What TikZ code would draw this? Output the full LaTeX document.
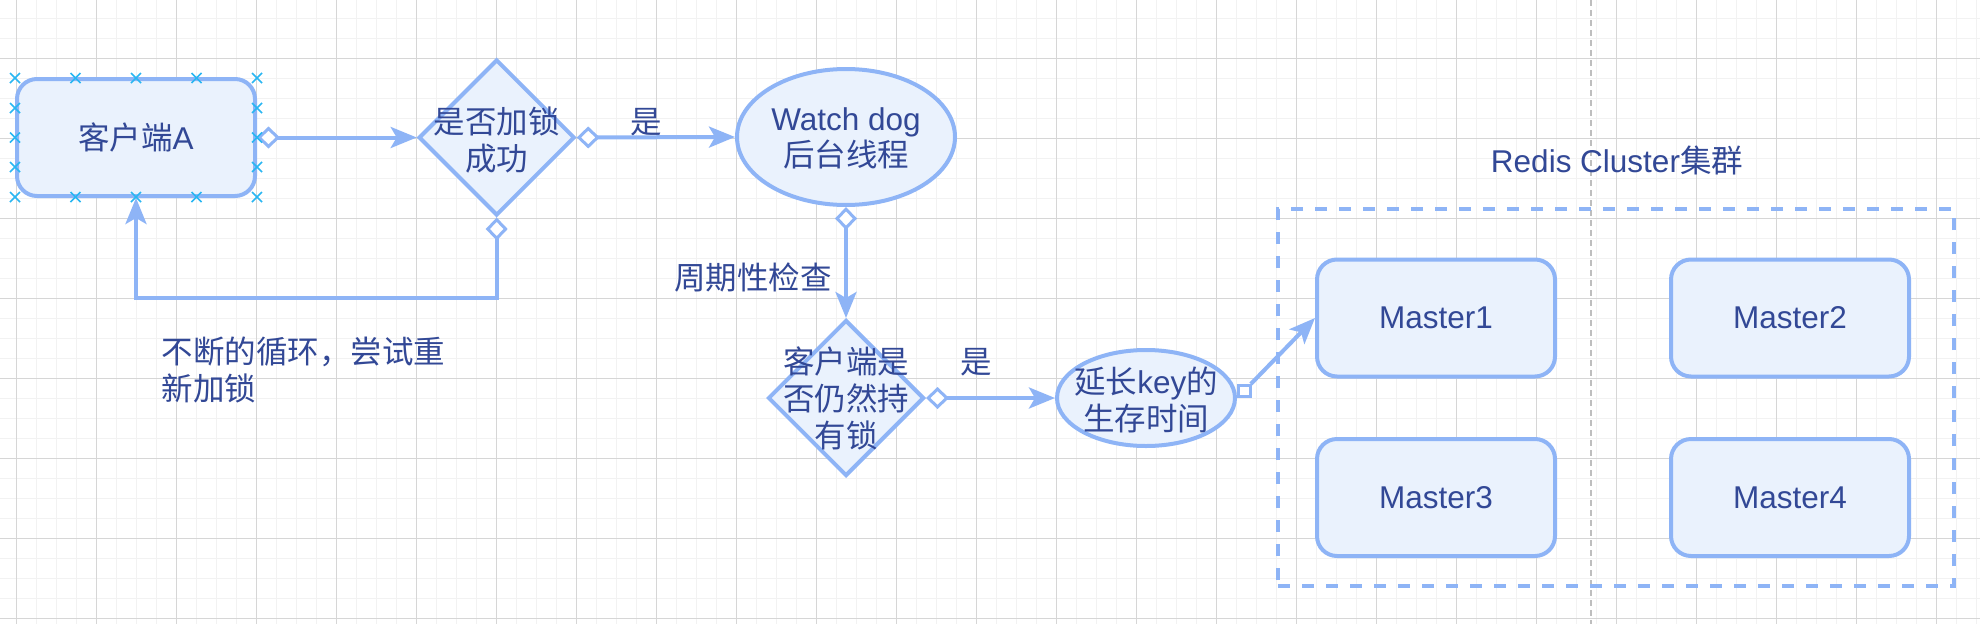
\documentclass[tikz,border=0pt]{standalone}
\usepackage{fontspec}
\setmainfont{Liberation Sans}
\newfontfamily\cjk{Noto Sans CJK SC}
\usetikzlibrary{arrows.meta,shapes.geometric}
\definecolor{strk}{RGB}{142,180,246}
\definecolor{fillc}{RGB}{234,242,253}
\definecolor{txt}{RGB}{50,72,150}
\definecolor{gmin}{RGB}{242,242,242}
\definecolor{gmaj}{RGB}{214,214,214}
\definecolor{hdlc}{RGB}{41,182,242}
\definecolor{pgline}{RGB}{190,190,190}
\tikzset{
  arrowhd/.tip={Stealth[length=26pt,width=21pt,inset=6pt]},
  dstart/.tip={Diamond[length=23pt,width=22pt,fill=white,line width=3pt]},
}
\begin{document}
\begin{tikzpicture}[x=1pt,y=-1pt,
  every node/.style={font=\fontsize{31.5}{36.7}\selectfont, text=txt},
  cj/.style={font=\fontsize{31.5}{36.7}\selectfont\cjk},
  rbox/.style={draw=strk, fill=fillc, line width=4pt, rounded corners=20pt,
    minimum width=238pt, minimum height=117pt, inner sep=0pt},
  dia/.style={diamond, aspect=1, draw=strk, fill=fillc, line width=4pt,
    minimum width=156pt, minimum height=156pt, inner sep=0pt},
  ell/.style={ellipse, draw=strk, fill=fillc, line width=4pt, inner sep=0pt},
  txtnode/.style={inner sep=0pt, align=center},
  conn/.style={draw=strk, line width=4pt},
  hdl/.style={draw=hdlc, line width=1.6pt},
  gminor/.style={draw=gmin, line width=1pt},
  gmajor/.style={draw=gmaj, line width=1pt},
  container/.style={draw=strk, line width=4pt, dash pattern=on 12pt off 12pt,
    minimum width=676pt, minimum height=377pt, inner sep=0pt},
  sqmark/.style={draw=strk, fill=white, line width=3pt, minimum width=12pt, minimum height=11pt, inner sep=0pt},
]
\useasboundingbox (0,0) rectangle (1980,624);
\fill[white] (0,0) rectangle (1980,624);
% grid
\foreach \i in {0,...,98} {\draw[gminor] ({16.7+20*\i},0) -- ({16.7+20*\i},624);}
\foreach \j in {0,...,30} {\draw[gminor] (0,{18.3+20*\j}) -- (1980,{18.3+20*\j});}
\foreach \i in {0,...,24} {\draw[gmajor] ({16.7+80*\i},0) -- ({16.7+80*\i},624);}
\foreach \j in {0,...,7} {\draw[gmajor] (0,{58.3+80*\j}) -- (1980,{58.3+80*\j});}
\draw[pgline, line width=1.5pt, dash pattern=on 6pt off 4pt] (1591,0) -- (1591,624);

% shapes
\node[rbox] (A) at (136,137.5) {{\cjk 客户端}A};
\node[dia] (d1) at (496.7,137.5) {};
\node[txtnode, cj] (d1t) at (496.7,140) {是否加锁\\成功};
\node[ell, minimum width=218pt, minimum height=136pt] (wd) at (846,137) {};
\node[txtnode] (wdt) at (846,138.5) {Watch dog\\{\cjk 后台线程}};
\node[dia] (d2) at (846,398) {};
\node[txtnode, cj] (d2t) at (846,398.5) {客户端是\\否仍然持\\有锁};
\node[ell, minimum width=178pt, minimum height=96pt] (e2) at (1146,398) {};
\node[txtnode] (e2t) at (1146,400) {{\cjk 延长}key{\cjk 的}\\{\cjk 生存时间}};

\node[container] (cl) at (1616,397.5) {};
\node[txtnode] (ltitle) at (1617,160) {Redis Cluster{\cjk 集群}};
\node[rbox] (m1) at (1436,318) {Master1};
\node[rbox] (m2) at (1790,318) {Master2};
\node[rbox] (m3) at (1436,497.5) {Master3};
\node[rbox] (m4) at (1790,497.5) {Master4};

% labels
\node[txtnode, cj] (lyes1) at (646.7,121.7) {是};
\node[txtnode, cj] (lyes2) at (976.7,361.7) {是};
\node[txtnode, cj] (lcheck) at (753,278) {周期性检查};
\node[inner sep=0pt, align=left, anchor=west, cj] (lloop) at (161.7,370) {不断的循环，尝试重\\新加锁};

% connectors
\coordinate (lp) at (496.7,298.3);
\draw[conn, dstart-arrowhd] (A.east) -- (d1.west);
\draw[conn, dstart-arrowhd] (d1.east) -- (wd.west);
\draw[conn, dstart-arrowhd] (d1.south) -- (lp) -| (A.south);
\draw[conn, dstart-arrowhd] (wd.south) -- (d2.north);
\draw[conn, dstart-arrowhd] (d2.east) -- (e2.west);
\node[sqmark] (sq) at (1244,391) {};
\draw[conn, -arrowhd] (sq) -- (m1.west);

% selection handles
\foreach \x/\y in {15/78, 75.5/78, 136/78, 196.5/78, 257/78,
                   15/197, 75.5/197, 136/197, 196.5/197, 257/197,
                   15/108, 15/137.5, 15/167, 257/108, 257/137.5, 257/167} {
  \draw[hdl] (\x-5,\y-5) -- (\x+5,\y+5) (\x-5,\y+5) -- (\x+5,\y-5);
}
\end{tikzpicture}
\end{document}
